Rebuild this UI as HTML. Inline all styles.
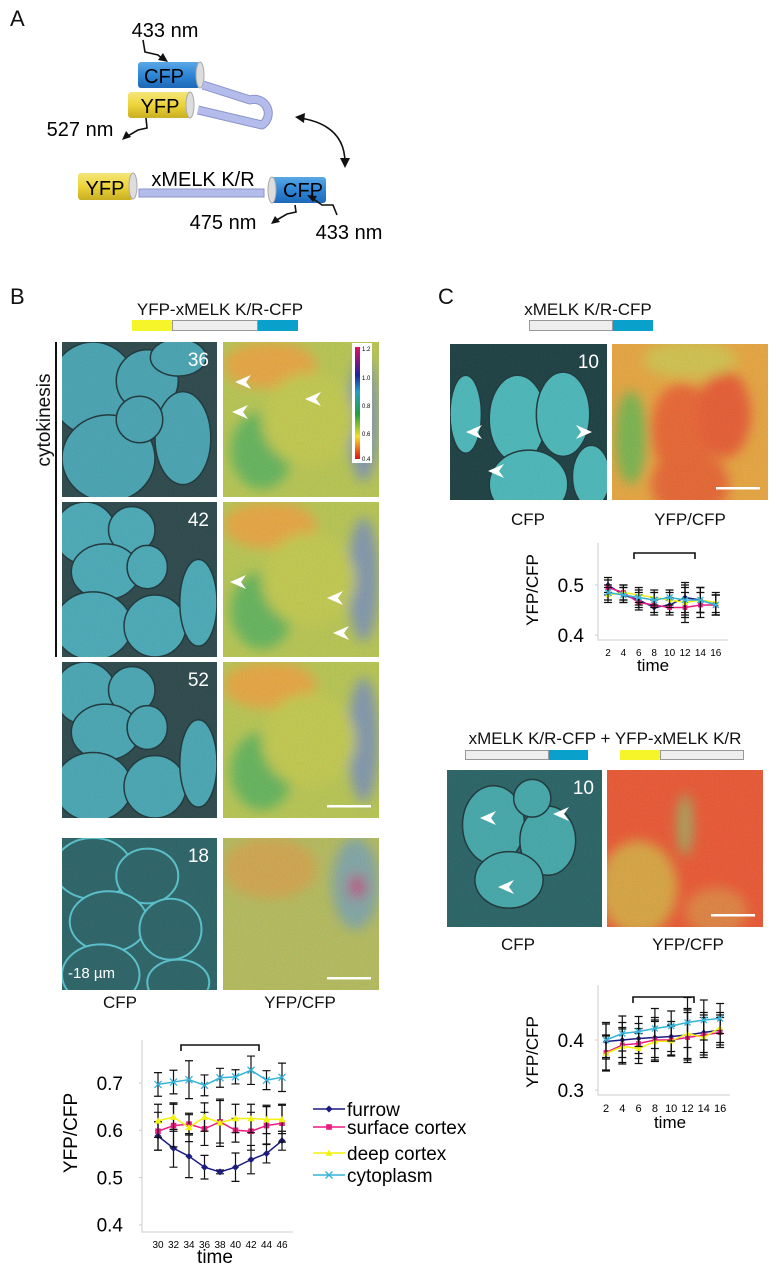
<!DOCTYPE html>
<html><head><meta charset="utf-8"><style>
body{margin:0;background:#fff;}
#root{position:relative;width:778px;height:1280px;overflow:hidden;font-family:"Liberation Sans",sans-serif;color:#111;}
.t{position:absolute;white-space:nowrap;}
.img{position:absolute;}
</style></head><body>
<div id="root">
<svg width="0" height="0" style="position:absolute">
<defs>
<filter id="noise" x="0" y="0" width="100%" height="100%"><feTurbulence type="fractalNoise" baseFrequency="0.9" numOctaves="2" seed="3"/><feColorMatrix type="saturate" values="0"/><feComponentTransfer><feFuncA type="linear" slope="0" intercept="0.35"/></feComponentTransfer></filter>
<filter id="cnoise" x="0" y="0" width="100%" height="100%"><feTurbulence type="fractalNoise" baseFrequency="0.8" numOctaves="2" seed="7"/><feComponentTransfer><feFuncA type="linear" slope="0" intercept="0.45"/></feComponentTransfer></filter>
<filter id="blur4"><feGaussianBlur stdDeviation="6"/></filter>
</defs></svg>

<!-- Panel A -->
<div class="t" style="left:10px;top:6px;font-size:22px">A</div>
<svg class="img" style="left:0;top:0" width="430" height="260">
<defs>
<linearGradient id="cfpg" x1="0" y1="0" x2="0" y2="1"><stop offset="0" stop-color="#5aa8e6"/><stop offset="0.5" stop-color="#2f86d6"/><stop offset="1" stop-color="#1e68b8"/></linearGradient>
<linearGradient id="yfpg" x1="0" y1="0" x2="0" y2="1"><stop offset="0" stop-color="#f5e67a"/><stop offset="0.5" stop-color="#ecd43a"/><stop offset="1" stop-color="#c9ae22"/></linearGradient>
</defs>
<g>
<path d="M203,85 L250,100 A14,14 0 0 1 262,125 L198,110" fill="none" stroke="#8a93c8" stroke-width="9" stroke-linejoin="round"/>
<path d="M203,85 L250,100 A14,14 0 0 1 262,125 L198,110" fill="none" stroke="#b4bcec" stroke-width="7"/>
</g>
<g><rect x="138" y="62" width="62" height="26" rx="3" fill="url(#cfpg)"/><ellipse cx="200" cy="75" rx="4" ry="13" fill="#ddd" stroke="#aaa"/><text x="164" y="83" font-size="20" text-anchor="middle" font-family="Liberation Sans">CFP</text></g>
<g><rect x="128" y="92" width="62" height="26" rx="3" fill="url(#yfpg)"/><ellipse cx="190" cy="105" rx="4" ry="13" fill="#ddd" stroke="#aaa"/><text x="160" y="113" font-size="20" text-anchor="middle" font-family="Liberation Sans">YFP</text></g>
<g><rect x="78" y="173" width="55" height="27" rx="3" fill="url(#yfpg)"/><ellipse cx="133" cy="186" rx="4" ry="13" fill="#ddd" stroke="#aaa"/><text x="105" y="195" font-size="20" text-anchor="middle" font-family="Liberation Sans">YFP</text></g>
<rect x="139" y="189" width="125" height="8" fill="#b4bcec" stroke="#8a93c8"/>
<g><rect x="270" y="177" width="56" height="26" rx="3" fill="url(#cfpg)"/><ellipse cx="272" cy="190" rx="4" ry="13" fill="#ddd" stroke="#aaa"/><text x="303" y="197" font-size="20" text-anchor="middle" font-family="Liberation Sans">CFP</text></g>
<text x="203" y="186" font-size="20" text-anchor="middle" font-family="Liberation Sans">xMELK K/R</text>
<text x="165" y="37" font-size="20" text-anchor="middle" font-family="Liberation Sans">433 nm</text>
<text x="80" y="136" font-size="20" text-anchor="middle" font-family="Liberation Sans">527 nm</text>
<text x="223" y="229" font-size="20" text-anchor="middle" font-family="Liberation Sans">475 nm</text>
<text x="349" y="239" font-size="20" text-anchor="middle" font-family="Liberation Sans">433 nm</text>
<g fill="none" stroke="#111" stroke-width="1.6">
<path d="M143,40 L145,52 L158,55 L164,60"/><path d="M146,118 L147,128 L138,130 L126,137"/>
<path d="M295,205 L296,212 L287,214 L275,221"/><path d="M337,215 L333,205 L322,205 L312,198"/>
<path d="M300,118 Q345,125 345,163"/>
</g>
<g fill="#111"><path d="M168,62 L158,60 L163,53Z"/><path d="M122,140 L126,131 L131,137Z"/><path d="M271,224 L275,216 L280,222Z"/><path d="M307,195 L317,196 L313,202Z"/>
<path d="M295,117 L305,113 L304,123Z"/><path d="M345,168 L340,158 L350,158Z"/></g>
</svg>

<!-- Panel B -->
<div class="t" style="left:10px;top:284px;font-size:22px">B</div>
<div class="t" style="left:220px;top:300px;transform:translateX(-50%);font-size:17px">YFP-xMELK K/R-CFP</div>
<div class="img" style="left:132px;top:320px;width:40px;height:11px;background:#f5f52a"></div>
<div class="img" style="left:172px;top:320px;width:84px;height:9px;background:#eee;border:1px solid #999"></div>
<div class="img" style="left:258px;top:320px;width:40px;height:11px;background:#0aa0cc"></div>
<div class="t" style="left:45px;top:420px;transform:translate(-50%,-50%) rotate(-90deg);font-size:19px">cytokinesis</div>
<div class="img" style="left:55px;top:342px;width:2px;height:315px;background:#111"></div>

<div id="bimgs"></div>
<div class="t" style="left:120px;top:993px;transform:translateX(-50%);font-size:17px">CFP</div>
<div class="t" style="left:300px;top:993px;transform:translateX(-50%);font-size:17px">YFP/CFP</div>

<svg class="img" id="chartB" style="left:0;top:1010px" width="520" height="270"></svg>

<!-- Panel C -->
<div class="t" style="left:438px;top:284px;font-size:22px">C</div>
<div class="t" style="left:588px;top:300px;transform:translateX(-50%);font-size:17px">xMELK K/R-CFP</div>
<div class="img" style="left:529px;top:320px;width:82px;height:9px;background:#eee;border:1px solid #999"></div>
<div class="img" style="left:613px;top:320px;width:40px;height:11px;background:#0aa0cc"></div>
<div id="cimgs"></div>
<div class="t" style="left:528px;top:510px;transform:translateX(-50%);font-size:17px">CFP</div>
<div class="t" style="left:690px;top:510px;transform:translateX(-50%);font-size:17px">YFP/CFP</div>
<svg class="img" id="chartC1" style="left:500px;top:530px" width="260" height="150"></svg>

<div class="t" style="left:605px;top:729px;transform:translateX(-50%);font-size:17px">xMELK K/R-CFP + YFP-xMELK K/R</div>
<div class="img" style="left:465px;top:750px;width:82px;height:8px;background:#eee;border:1px solid #999"></div>
<div class="img" style="left:549px;top:750px;width:39px;height:10px;background:#0aa0cc"></div>
<div class="img" style="left:620px;top:750px;width:40px;height:10px;background:#f5f52a"></div>
<div class="img" style="left:660px;top:750px;width:82px;height:8px;background:#eee;border:1px solid #999"></div>
<div class="t" style="left:518px;top:935px;transform:translateX(-50%);font-size:17px">CFP</div>
<div class="t" style="left:688px;top:935px;transform:translateX(-50%);font-size:17px">YFP/CFP</div>
<svg class="img" id="chartC2" style="left:500px;top:960px" width="260" height="170"></svg>
</div>

<script>
// ---------- Chart data ----------
const bTimes = [30,32,34,36,38,40,42,44,46];
const bFurrow = [0.588,0.562,0.545,0.522,0.512,0.522,0.538,0.551,0.578];
const bFurrowErr = [0.03,0.04,0.045,0.025,0.004,0.03,0.03,0.02,0.02];
const bSurface = [0.598,0.610,0.613,0.603,0.618,0.600,0.598,0.610,0.615];
const bSurfaceErr = [0.04,0.045,0.02,0.035,0.045,0.025,0.04,0.04,0.04];
const bDeep = [0.620,0.628,0.606,0.628,0.616,0.625,0.625,0.623,0.623];
const bDeepErr = [0.035,0.03,0.03,0.03,0.05,0.03,0.03,0.03,0.03];
const bCyto = [0.697,0.702,0.707,0.695,0.711,0.713,0.727,0.706,0.712];
const bCytoErr = [0.025,0.025,0.04,0.022,0.02,0.015,0.03,0.02,0.03];
const bYTicks = [0.4,0.5,0.6,0.7];

const cTimes = [2,4,6,8,10,12,14,16];
const c1Furrow = [0.50,0.48,0.47,0.455,0.46,0.475,0.47,0.46];
const c1Surface = [0.495,0.485,0.465,0.46,0.455,0.455,0.46,0.46];
const c1Deep = [0.48,0.485,0.48,0.475,0.47,0.465,0.47,0.465];
const c1Cyto = [0.485,0.48,0.475,0.47,0.475,0.47,0.47,0.46];
const c1Err = [0.015,0.015,0.015,0.015,0.015,0.03,0.025,0.02];
const c1YTicks = [0.4,0.5];

const c2Furrow = [0.397,0.40,0.403,0.405,0.407,0.41,0.415,0.42];
const c2Surface = [0.375,0.39,0.393,0.40,0.40,0.405,0.41,0.415];
const c2Deep = [0.373,0.387,0.383,0.397,0.398,0.413,0.405,0.425];
const c2Cyto = [0.40,0.413,0.417,0.423,0.428,0.435,0.44,0.443];
const c2Err = [0.035,0.035,0.03,0.04,0.03,0.05,0.04,0.03];
const c2YTicks = [0.3,0.4];

const legendLabels = ["furrow","surface cortex","deep cortex","cytoplasm"];
const seriesColors = ["#1c1c80","#ea1a80","#f2f20a","#35b2d8"];
const seriesMarkers = ["diamond","square","triangle","x"];

const NS = "http://www.w3.org/2000/svg";
function mk(parent, tag, attrs){const e=document.createElementNS(NS,tag);for(const k in attrs)e.setAttribute(k,attrs[k]);parent.appendChild(e);return e;}
function marker(g, type, x, y, s, color){
  let e;
  if(type==="diamond") e=mk(g,"path",{d:`M${x},${y-s} L${x+s},${y} L${x},${y+s} L${x-s},${y}Z`,fill:color});
  else if(type==="square") e=mk(g,"rect",{x:x-s*0.8,y:y-s*0.8,width:s*1.6,height:s*1.6,fill:color});
  else if(type==="triangle") e=mk(g,"path",{d:`M${x},${y-s} L${x+s},${y+s*0.8} L${x-s},${y+s*0.8}Z`,fill:color});
  else e=mk(g,"path",{d:`M${x-s},${y-s} L${x+s},${y+s} M${x-s},${y+s} L${x+s},${y-s}`,stroke:color,"stroke-width":1.3});
  return e;
}
function drawChart(svg, o){
  const xs = i => o.x0 + i*o.dx;
  const ys = v => o.yRef - (v - o.vRef)*o.ppu;
  const ax = mk(svg,"path",{d:`M${o.axX},${o.axTop} L${o.axX},${o.axBot} L${o.axRight},${o.axBot}`,stroke:"#ccc",fill:"none","stroke-width":1});
  
  
  o.yTicks.forEach(v=>{
    const t=mk(svg,"text",{x:o.axX-o.ygap,y:ys(v)+o.yfs*0.36,"font-size":o.yfs,"text-anchor":"end","font-family":"Liberation Sans"});t.textContent=v.toFixed(1);
    
    
    mk(svg,"line",{x1:o.axX-3,x2:o.axX,y1:ys(v),y2:ys(v),stroke:"#ccc"});
  });
  o.times.forEach((tv,i)=>{
    const t=mk(svg,"text",{x:xs(i),y:o.axBot+o.xfs+6,"font-size":o.xfs,"text-anchor":"middle","font-family":"Liberation Sans"});t.textContent=tv;
    
    
  });
  const yt=mk(svg,"text",{x:0,y:0,"font-size":o.tfs,"text-anchor":"middle","font-family":"Liberation Sans",transform:`translate(${o.ytX},${o.ytY}) rotate(-90)`});yt.textContent="YFP/CFP";
  
  
  const xt=mk(svg,"text",{x:o.xtX,y:o.xtY,"font-size":o.tfs,"text-anchor":"middle","font-family":"Liberation Sans"});xt.textContent="time";
  
  
  const br=mk(svg,"path",{d:`M${o.brL},${o.brY+6} L${o.brL},${o.brY} L${o.brR},${o.brY} L${o.brR},${o.brY+6}`,stroke:"#111",fill:"none","stroke-width":1.6});
  
  
  o.series.forEach((s,si)=>{
    const g=mk(svg,"g",{});
    
    
    s.vals.forEach((v,i)=>{
      const e=s.err[i], x=xs(i);
      mk(g,"path",{d:`M${x},${ys(v-e)} L${x},${ys(v+e)} M${x-4},${ys(v-e)} L${x+4},${ys(v-e)} M${x-4},${ys(v+e)} L${x+4},${ys(v+e)}`,stroke:"#111","stroke-width":1.2,fill:"none"});
    });
    mk(g,"polyline",{points:s.vals.map((v,i)=>xs(i)+","+ys(v)).join(" "),fill:"none",stroke:seriesColors[si],"stroke-width":1.5});
    s.vals.forEach((v,i)=>{
      const m=marker(g,seriesMarkers[si],xs(i),ys(v),o.ms,seriesColors[si]);
      
      
    });
  });
}
drawChart(document.getElementById("chartB"),{
  x0:158,dx:15.5,yRef:73,vRef:0.7,ppu:473,
  axX:142,axTop:30,axBot:222,axRight:293,yTicks:bYTicks,times:bTimes,yfs:19,xfs:10,tfs:19,ygap:19,
  ytX:77,ytY:123,xtX:215,xtY:253,brL:181,brR:259,brY:35,ms:3.5,
  series:[{vals:bFurrow,err:bFurrowErr},{vals:bSurface,err:bSurfaceErr},{vals:bDeep,err:bDeepErr},{vals:bCyto,err:bCytoErr}]
});
// legend
(function(){
  const svg=document.getElementById("chartB");
  const ly=[99,117,143,165];
  legendLabels.forEach((lab,i)=>{
    const g=mk(svg,"g",{});
    
    
    mk(g,"line",{x1:313,x2:345,y1:ly[i],y2:ly[i],stroke:seriesColors[i],"stroke-width":1.5});
    marker(g,seriesMarkers[i],329,ly[i],3.5,seriesColors[i]);
    const t=mk(g,"text",{x:347,y:ly[i]+7,"font-size":19,"font-family":"Liberation Sans"});t.textContent=lab;
  });
})();
drawChart(document.getElementById("chartC1"),{
  x0:108,dx:15.4,yRef:55,vRef:0.5,ppu:500,
  axX:98,axTop:13,axBot:110,axRight:228,yTicks:c1YTicks,times:cTimes,yfs:19,xfs:10,tfs:17,ygap:14,
  ytX:38,ytY:60,xtX:153,xtY:141,brL:134,brR:195,brY:23,ms:3,
  series:[{vals:c1Furrow,err:c1Err},{vals:c1Surface,err:c1Err},{vals:c1Deep,err:c1Err},{vals:c1Cyto,err:c1Err}]
});
drawChart(document.getElementById("chartC2"),{
  x0:106,dx:16.3,yRef:80,vRef:0.4,ppu:500,
  axX:98,axTop:25,axBot:135,axRight:230,yTicks:c2YTicks,times:cTimes,yfs:19,xfs:11,tfs:17,ygap:14,
  ytX:38,ytY:92,xtX:170,xtY:168,brL:133,brR:194,brY:37,ms:3,
  series:[{vals:c2Furrow,err:c2Err},{vals:c2Surface,err:c2Err},{vals:c2Deep,err:c2Err},{vals:c2Cyto,err:c2Err}]
});

// ---------- Micrographs ----------
function cfpImg(host,name,x,y,w,h,bg,cell,label,cells,outline){
  let s=`<svg class="img" style="left:${x}px;top:${y}px" width="${w}" height="${h}"><rect width="${w}" height="${h}" fill="${bg}"/>`;
  cells.forEach(c=>{s+=`<ellipse cx="${c[0]*w}" cy="${c[1]*h}" rx="${c[2]*w}" ry="${c[3]*h}" fill="${cell}" ${outline?`stroke="${outline}" stroke-width="2"`:'stroke="#0f2a2e" stroke-width="1.5"'}/>`;});
  s+=`<rect width="${w}" height="${h}" filter="url(#noise)" opacity="0.35"/>`;
  if(label)s+=`<text x="${w-8}" y="24" font-size="19" fill="#fff" text-anchor="end" font-family="Liberation Sans">${label}</text>`;
  s+=`</svg>`;host.insertAdjacentHTML("beforeend",s);
}
function ratioImg(host,name,x,y,w,h,base,patches,scale){
  let s=`<svg class="img" style="left:${x}px;top:${y}px" width="${w}" height="${h}"><rect width="${w}" height="${h}" fill="${base}"/><g filter="url(#blur4)">`;
  patches.forEach(p=>{s+=`<ellipse cx="${p[0]*w}" cy="${p[1]*h}" rx="${p[2]*w}" ry="${p[3]*h}" fill="${p[4]}"/>`;});
  s+=`</g><rect width="${w}" height="${h}" filter="url(#cnoise)" opacity="0.35"/>`;
  if(scale)s+=`<rect x="${w-52}" y="${h-13}" width="44" height="2.5" fill="#fff"/>`;
  s+=`</svg>`;host.insertAdjacentHTML("beforeend",s);
}
const cellsA=[[0.2,0.3,0.28,0.3],[0.55,0.25,0.2,0.2],[0.3,0.75,0.3,0.28],[0.78,0.62,0.18,0.3],[0.5,0.5,0.15,0.15],[0.75,0.1,0.18,0.12]];
const cellsB=[[0.15,0.2,0.2,0.2],[0.45,0.18,0.15,0.15],[0.28,0.45,0.22,0.18],[0.55,0.42,0.13,0.14],[0.2,0.8,0.25,0.22],[0.6,0.8,0.2,0.2],[0.88,0.65,0.12,0.28]];
const bh=document.getElementById("bimgs");
cfpImg(bh,"cfp-image-36",62,342,155,155,"#1f3d40","#3d9fae","36",cellsA);
cfpImg(bh,"cfp-image-42",62,502,155,155,"#1f3d40","#40a6b4","42",cellsB);
cfpImg(bh,"cfp-image-52",62,662,155,156,"#1f3d40","#3ea2b0","52",cellsB);
cfpImg(bh,"cfp-image-18",62,838,155,152,"#1e5a5e","#1e5a5e","18",[[0.2,0.2,0.25,0.2],[0.55,0.25,0.2,0.18],[0.3,0.55,0.25,0.2],[0.7,0.6,0.2,0.2],[0.25,0.9,0.25,0.2],[0.75,0.95,0.2,0.15]],"#4ec0cc");
bh.insertAdjacentHTML("beforeend",'<div class="t" style="left:68px;top:965px;font-size:15px;color:#fff">-18 µm</div>');
const pB=[[0.3,0.15,0.3,0.15,"#e8a030"],[0.25,0.7,0.2,0.25,"#58b050"],[0.9,0.5,0.1,0.4,"#7890a8"],[0.55,0.5,0.3,0.3,"#c0c840"]];
ratioImg(bh,"ratio-image-36",223,342,156,155,"#b4c444",pB,false);
ratioImg(bh,"ratio-image-42",223,502,156,155,"#b4c444",pB,false);
ratioImg(bh,"ratio-image-52",223,662,156,156,"#b4c444",pB,true);
ratioImg(bh,"ratio-image-18",223,838,156,152,"#b0b850",[[0.3,0.2,0.3,0.2,"#d0a040"],[0.85,0.3,0.15,0.3,"#78a0a0"],[0.86,0.32,0.06,0.08,"#b04880"]],true);
// colorbar
bh.insertAdjacentHTML("beforeend",`<svg class="img" style="left:352px;top:343px" width="20" height="120"><defs><linearGradient id="cb" x1="0" y1="1" x2="0" y2="0"><stop offset="0" stop-color="#e01010"/><stop offset="0.2" stop-color="#f5e020"/><stop offset="0.4" stop-color="#20a040"/><stop offset="0.6" stop-color="#20a0c0"/><stop offset="0.75" stop-color="#2020a0"/><stop offset="1" stop-color="#e01060"/></linearGradient></defs><rect width="20" height="120" fill="#fff"/><rect x="3" y="4" width="5" height="112" fill="url(#cb)"/><g font-size="6" font-family="Liberation Sans"><text x="10" y="8">1.2</text><text x="10" y="37">1.0</text><text x="10" y="65">0.8</text><text x="10" y="93">0.6</text><text x="10" y="118">0.4</text></g></svg>`);
// arrowheads
function arrow(host,x,y,dir){const r=dir<0?'scaleX(-1)':'';host.insertAdjacentHTML("beforeend",`<svg class="img" style="left:${x}px;top:${y}px;transform:${r}" width="16" height="14"><path d="M16,7 L0,0 L5,7 L0,14Z" fill="#fff"/></svg>`);}
arrow(bh,235,375,-1);arrow(bh,232,405,-1);arrow(bh,305,392,-1);
arrow(bh,230,575,-1);arrow(bh,327,591,-1);arrow(bh,333,626,-1);

const ch=document.getElementById("cimgs");
cfpImg(ch,"c1-cfp-image",450,344,157,156,"#0e3436","#40b4b6","10",[[0.43,0.48,0.18,0.28],[0.72,0.45,0.17,0.27],[0.5,0.9,0.25,0.22],[0.1,0.45,0.1,0.25],[0.9,0.85,0.12,0.2]]);
ratioImg(ch,"c1-ratio-image",612,344,156,156,"#e8a030",[[0.45,0.55,0.2,0.3,"#ea5a20"],[0.72,0.45,0.17,0.28,"#e85020"],[0.5,0.9,0.25,0.22,"#e85a20"],[0.12,0.6,0.1,0.3,"#70b040"],[0.5,0.1,0.3,0.12,"#d0c040"]],true);
arrow(ch,466,425,-1);arrow(ch,576,425,1);arrow(ch,488,464,-1);
cfpImg(ch,"c2-cfp-image",447,770,155,157,"#1c5a5c","#3aa4a6","10",[[0.3,0.35,0.2,0.25],[0.65,0.45,0.18,0.22],[0.4,0.7,0.22,0.18],[0.55,0.18,0.12,0.12]]);
ratioImg(ch,"c2-ratio-image",607,770,156,157,"#ec4a22",[[0.2,0.75,0.25,0.3,"#d8a030"],[0.7,0.9,0.2,0.15,"#e07a30"],[0.5,0.35,0.05,0.2,"#a0a050"]],true);
arrow(ch,480,811,-1);arrow(ch,553,807,-1);arrow(ch,498,880,-1);
</script>
</body></html>
